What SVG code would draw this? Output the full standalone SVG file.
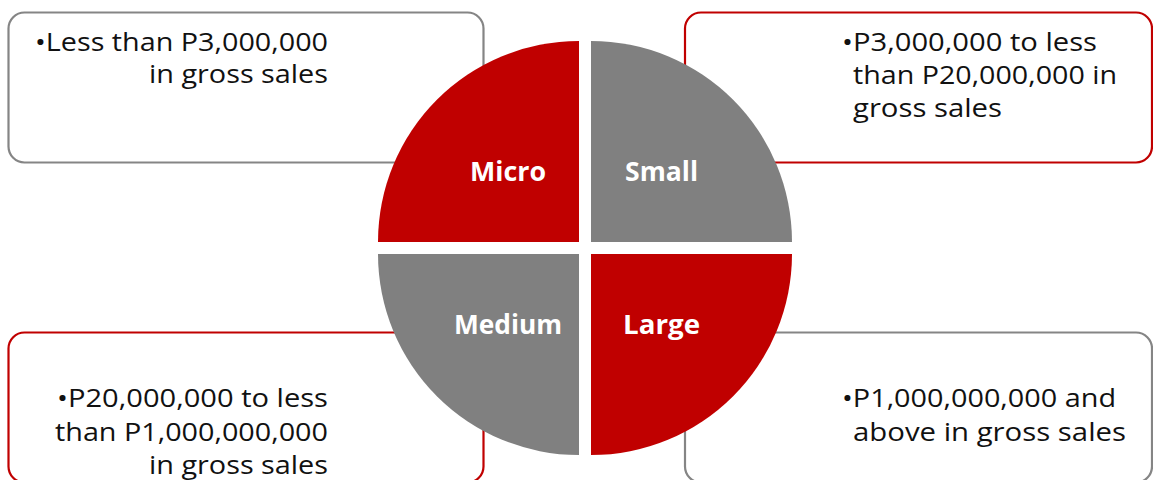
<svg xmlns="http://www.w3.org/2000/svg" width="1153" height="480" viewBox="0 0 1153 480">
  <style>
    .box { fill: #ffffff; stroke-width: 2.2; }
    .box-gray { stroke: #858585; }
    .box-red { stroke: #C00000; }
    .desc { font-family: "Open Sans", Lato, sans-serif; font-size: 25.5px; fill: #111111; }
    .q-red { fill: #C00000; }
    .q-gray { fill: #808080; }
    .label { font-family: "Open Sans", Lato, sans-serif; font-weight: bold; font-size: 26px; fill: #ffffff; }
  </style>

  <!-- description panels, drawn beneath the wheel -->
  <g id="panel-micro">
    <rect class="box box-gray" x="8.5" y="12.5" width="475" height="150" rx="16"/>
    <text class="desc" x="35" y="51" textLength="293" lengthAdjust="spacingAndGlyphs">•Less than P3,000,000</text>
    <text class="desc" x="149" y="83" textLength="179" lengthAdjust="spacingAndGlyphs">in gross sales</text>
  </g>

  <g id="panel-small">
    <rect class="box box-red" x="685" y="12.5" width="467" height="150" rx="16"/>
    <text class="desc" x="842" y="51" textLength="255" lengthAdjust="spacingAndGlyphs">•P3,000,000 to less</text>
    <text class="desc" x="853" y="84" textLength="264" lengthAdjust="spacingAndGlyphs">than P20,000,000 in</text>
    <text class="desc" x="853" y="117" textLength="149" lengthAdjust="spacingAndGlyphs">gross sales</text>
  </g>

  <g id="panel-medium">
    <rect class="box box-red" x="8.5" y="332.5" width="475" height="150" rx="16"/>
    <text class="desc" x="57" y="407" textLength="271" lengthAdjust="spacingAndGlyphs">•P20,000,000 to less</text>
    <text class="desc" x="55" y="441" textLength="273" lengthAdjust="spacingAndGlyphs">than P1,000,000,000</text>
    <text class="desc" x="149" y="474" textLength="179" lengthAdjust="spacingAndGlyphs">in gross sales</text>
  </g>

  <g id="panel-large">
    <rect class="box box-gray" x="685" y="332.5" width="467" height="150" rx="16"/>
    <text class="desc" x="842" y="407" textLength="274" lengthAdjust="spacingAndGlyphs">•P1,000,000,000 and</text>
    <text class="desc" x="853" y="441" textLength="273" lengthAdjust="spacingAndGlyphs">above in gross sales</text>
  </g>

  <!-- four-quadrant wheel -->
  <g id="micro">
    <path class="q-red" d="M579,242 L378,242 A201,201 0 0 1 579,41 Z"/>
    <text class="label" x="470" y="181" textLength="76" lengthAdjust="spacingAndGlyphs">Micro</text>
  </g>
  <g id="small">
    <path class="q-gray" d="M591,242 L591,41 A201,201 0 0 1 792,242 Z"/>
    <text class="label" x="625" y="181" textLength="73" lengthAdjust="spacingAndGlyphs">Small</text>
  </g>
  <g id="medium">
    <path class="q-gray" d="M579,254 L579,455 A201,201 0 0 1 378,254 Z"/>
    <text class="label" x="454" y="334" textLength="108" lengthAdjust="spacingAndGlyphs">Medium</text>
  </g>
  <g id="large">
    <path class="q-red" d="M591,254 L792,254 A201,201 0 0 1 591,455 Z"/>
    <text class="label" x="623" y="334" textLength="77" lengthAdjust="spacingAndGlyphs">Large</text>
  </g>

  <g id="connectors"/>
</svg>
